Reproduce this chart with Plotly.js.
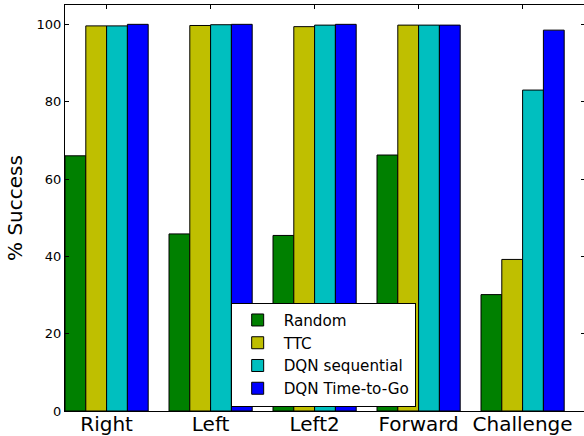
<!DOCTYPE html>
<html>
<head>
<meta charset="utf-8">
<script src="https://cdn.plot.ly/plotly-3.0.1.min.js"></script>
<style>
html, body { margin: 0; padding: 0; overflow: hidden; background: #fff; }
#chart { width: 586px; height: 436px; }
</style>
</head>
<body>
<div id="chart"></div>
<script>
const categories = ["Right", "Left", "Left2", "Forward", "Challenge"];
const seriesNames = ["Random", "TTC", "DQN sequential", "DQN Time-to-Go"];
const randomVals = [66.0, 45.8, 45.4, 66.2, 30.1];
const ttcVals = [99.6, 99.7, 99.4, 99.8, 39.2];
const dqnSeqVals = [99.6, 99.9, 99.8, 99.8, 83.0];
const dqnTtgVals = [100.0, 100.0, 100.0, 99.8, 98.5];
const seriesColors = ["#008000", "#bfbf00", "#00bfbf", "#0000ff"];
const yTicks = [0, 20, 40, 60, 80, 100];

const allVals = [randomVals, ttcVals, dqnSeqVals, dqnTtgVals];
const traces = allVals.map((vals, i) => ({
  type: "bar",
  name: seriesNames[i],
  x: categories,
  y: vals,
  marker: { color: seriesColors[i], line: { color: "#000", width: 1 } },
  hoverinfo: "x+y+name"
}));

const font = "DejaVu Sans, sans-serif";
const layout = {
  width: 586,
  height: 436,
  margin: { l: 65, r: 1, t: 5, b: 25 },
  paper_bgcolor: "#fff",
  plot_bgcolor: "#fff",
  barmode: "group",
  bargap: 0.2,
  bargroupgap: 0,
  showlegend: true,
  font: { family: font, color: "#000" },
  xaxis: {
    type: "category",
    range: [-0.4, 4.6],
    showgrid: false,
    zeroline: false,
    showline: true,
    linecolor: "#000",
    linewidth: 1,
    mirror: "ticks",
    ticks: "inside",
    ticklen: 4,
    tickcolor: "#000",
    ticklabelstandoff: -5,
    tickfont: { family: font, size: 20, color: "#000" },
    fixedrange: true
  },
  yaxis: {
    range: [0, 105],
    tickvals: yTicks,
    ticktext: yTicks.map(String),
    showgrid: false,
    zeroline: false,
    showline: true,
    linecolor: "#000",
    linewidth: 1,
    mirror: "ticks",
    ticks: "inside",
    ticklen: 4,
    tickcolor: "#000",
    tickfont: { family: font, size: 13, color: "#000" },
    title: { text: "% Success", font: { family: font, size: 20, color: "#000" }, standoff: 8 },
    fixedrange: true
  },
  legend: {
    x: 0.3186,
    y: 0.267,
    xanchor: "left",
    yanchor: "top",
    bgcolor: "#fff",
    bordercolor: "#000",
    borderwidth: 1,
    font: { family: font, size: 15.2, color: "#000" },
    itemwidth: 42,
    tracegroupgap: 0
  }
};

Plotly.newPlot("chart", traces, layout, { displayModeBar: false, staticPlot: true });
</script>
</body>
</html>
